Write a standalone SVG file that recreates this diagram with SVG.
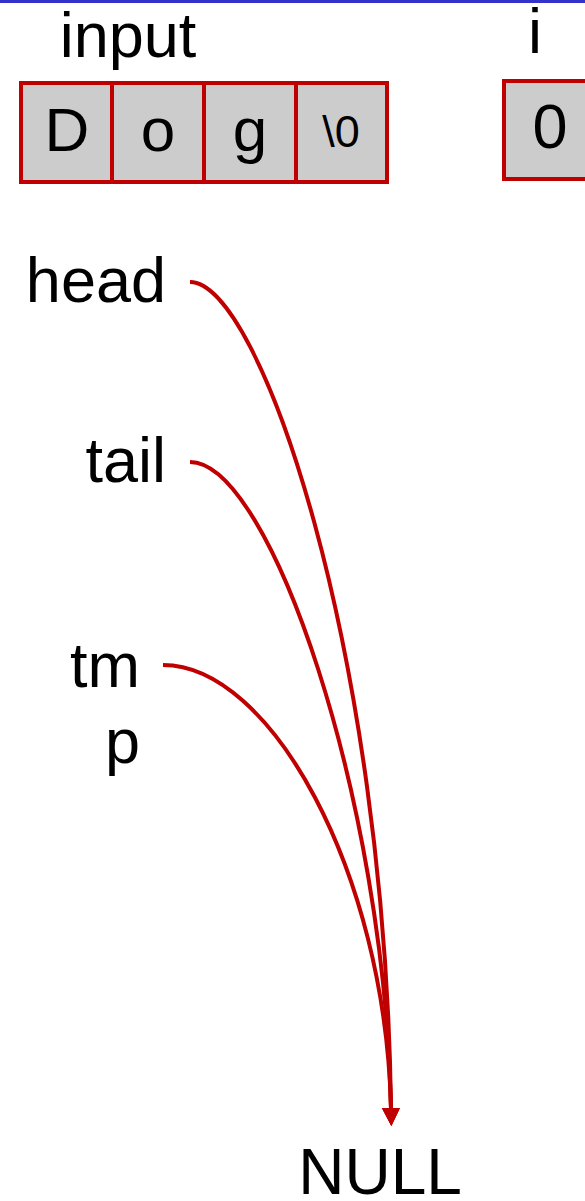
<svg xmlns="http://www.w3.org/2000/svg" width="585" height="1201" viewBox="0 0 585 1201">
<defs>
<style>
.t{font-family:"Liberation Sans",Arial,sans-serif;fill:#000}
.cell{fill:#cccccc;stroke:#c00000;stroke-width:4}
.c{fill:none;stroke:#c00000;stroke-width:4}
</style>
<marker id="ah" markerWidth="18" markerHeight="18" refX="0" refY="9" orient="auto" markerUnits="userSpaceOnUse" viewBox="0 0 18 18">
<path d="M0,0 L18,9 L0,18 Z" fill="#c00000"/>
</marker>
</defs>
<rect x="0" y="0" width="585" height="3" fill="#3333cc"/>
<g id="input">
<text class="t" x="128" y="57" font-size="63" text-anchor="middle">input</text>
<rect class="cell" x="21" y="83" width="91" height="99"/>
<rect class="cell" x="112" y="83" width="92" height="99"/>
<rect class="cell" x="204" y="83" width="92" height="99"/>
<rect class="cell" x="296" y="83" width="91" height="99"/>
<text class="t" x="67" y="151" font-size="62" text-anchor="middle">D</text>
<text class="t" x="158" y="151" font-size="62" text-anchor="middle">o</text>
<text class="t" x="250" y="151" font-size="62" text-anchor="middle">g</text>
<text class="t" x="341" y="147" font-size="45" text-anchor="middle">\0</text>
</g>
<g id="i">
<text class="t" x="535" y="53" font-size="63" text-anchor="middle">i</text>
<rect class="cell" x="504" y="81" width="100" height="98"/>
<text class="t" x="550" y="148" font-size="63" text-anchor="middle">0</text>
</g>
<g id="head"><text class="t" x="166" y="302" font-size="63" text-anchor="end">head</text></g>
<g id="tail"><text class="t" x="166" y="482" font-size="63" text-anchor="end">tail</text></g>
<g id="tmp"><text class="t" x="140" y="687" font-size="63" text-anchor="end">tm</text><text class="t" x="140" y="763" font-size="63" text-anchor="end">p</text></g>
<g id="null"><text class="t" x="380" y="1194" font-size="64" text-anchor="middle">NULL</text></g>
<g id="connectors">
<path class="c" d="M190,282 C260,282 385,650 391,1108" marker-end="url(#ah)"/>
<path class="c" d="M190,462 C270,462 385,800 391,1108" marker-end="url(#ah)"/>
<path class="c" d="M163,665 C270,665 385,870 391,1108" marker-end="url(#ah)"/>
</g>
</svg>
